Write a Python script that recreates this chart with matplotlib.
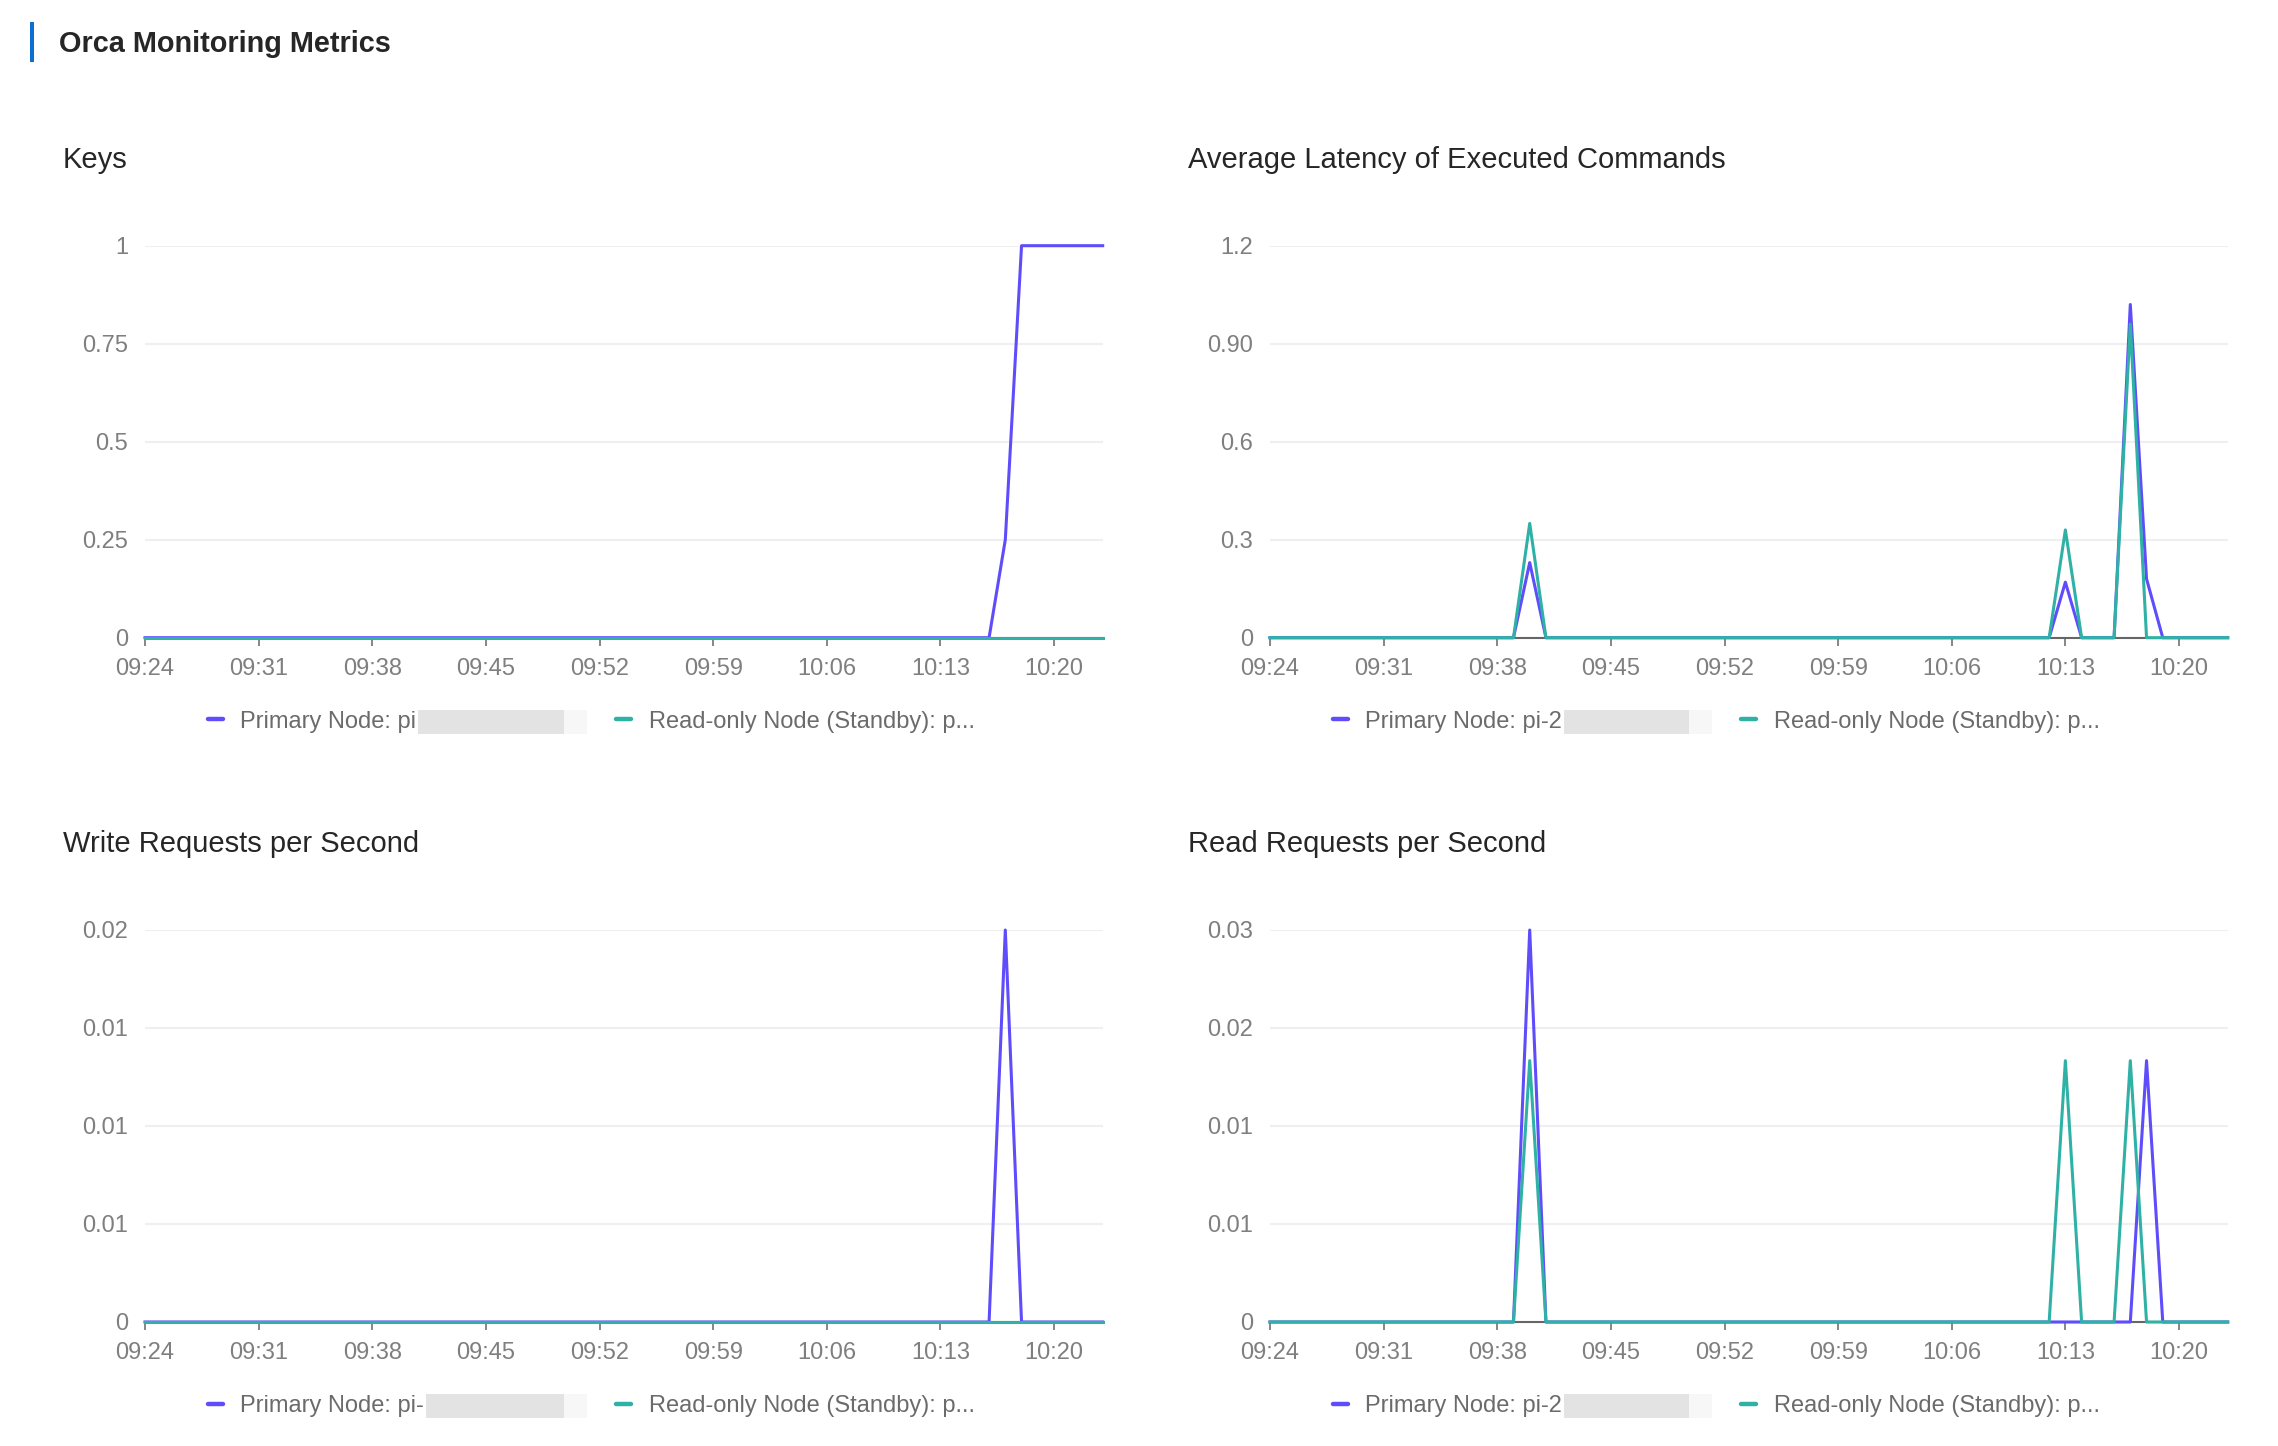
#!/usr/bin/env python3

import pandas as pd
import matplotlib
matplotlib.use("Agg")
import matplotlib.pyplot as plt
import matplotlib.dates as mdates
from matplotlib.lines import Line2D
from matplotlib.patches import Rectangle

DPI = 100

# one sample per minute, 09:24 .. 10:23
TIMES = pd.date_range("2024-01-01 09:24", periods=60, freq="min")

KEYS_PRIMARY = [0] * 53 + [0.25] + [1] * 6
KEYS_STANDBY = [0] * 60

LAT_PRIMARY = [0] * 16 + [0.23] + [0] * 32 + [0.17] + [0] * 3 + [1.02, 0.18] + [0] * 5
LAT_STANDBY = [0] * 16 + [0.35] + [0] * 32 + [0.33] + [0] * 3 + [0.96] + [0] * 6

WRITE_PRIMARY = [0] * 53 + [0.02] + [0] * 6
WRITE_STANDBY = [0] * 60

READ_PRIMARY = [0] * 16 + [0.03] + [0] * 37 + [0.02] + [0] * 5
READ_STANDBY = [0] * 16 + [0.02] + [0] * 32 + [0.02] + [0] * 3 + [0.02] + [0] * 6

KEYS_TICKS = [0, 0.25, 0.5, 0.75, 1]
KEYS_LABELS = ["0", "0.25", "0.5", "0.75", "1"]
LAT_TICKS = [0, 0.3, 0.6, 0.9, 1.2]
LAT_LABELS = ["0", "0.3", "0.6", "0.90", "1.2"]
WRITE_TICKS = [0, 0.005, 0.01, 0.015, 0.02]
WRITE_LABELS = ["0", "0.01", "0.01", "0.01", "0.02"]
READ_TICKS = [0, 0.0075, 0.015, 0.0225, 0.03]
READ_LABELS = ["0", "0.01", "0.01", "0.02", "0.03"]

PURPLE = "#5f4dfb"
TEAL = "#2fb1a6"
TICK_GREY = "#7f7f7f"
TEXT_GREY = "#6b6b6b"

plt.rcParams['font.family'] = ['Liberation Sans', 'DejaVu Sans']

W, H = 2278, 1446


def panel(fig, rect, title, title_xy, primary, standby, ticks, labels, primary_label):
    ax = fig.add_axes(rect)
    ax.plot(TIMES, primary, color=PURPLE, lw=2.2, zorder=3, clip_on=False)
    ax.plot(TIMES, standby, color=TEAL, lw=2.2, zorder=4, clip_on=False)
    ax.set_xlim(TIMES[0], TIMES[-1])
    ax.set_ylim(0, ticks[-1])
    ax.set_yticks(ticks)
    ax.set_yticklabels(labels)
    ax.set_xticks(TIMES[::7])
    ax.xaxis.set_major_formatter(mdates.DateFormatter("%H:%M"))
    for s in ("top", "left", "right"):
        ax.spines[s].set_visible(False)
    ax.spines["bottom"].set_color("#666666")
    ax.spines["bottom"].set_linewidth(1.5)
    ax.spines["bottom"].set_zorder(1)
    ax.tick_params(axis="x", direction="out", length=5.8, width=1.1, color="#666666",
                   labelcolor=TICK_GREY, labelsize=17, pad=8.6)
    ax.tick_params(axis="y", length=0, labelcolor=TICK_GREY, labelsize=17, pad=12.3)
    ax.grid(axis="y", color="#efefef", lw=1.5)
    ax.set_axisbelow(True)

    fig.text(title_xy[0], title_xy[1], title, fontsize=21, color="#262626", va="baseline")

    h1 = Line2D([], [], color=PURPLE, lw=3.2, solid_capstyle="round")
    h2 = Line2D([], [], color=TEAL, lw=3.2, solid_capstyle="round")
    common = dict(loc="center left", frameon=False, fontsize=17, borderpad=0,
                  borderaxespad=0, handlelength=0.62, handletextpad=0.75,
                  labelcolor=TEXT_GREY)
    leg1 = ax.legend([h1], [primary_label], bbox_to_anchor=(0.0658, -0.214), **common)
    ax.add_artist(leg1)
    ax.legend([h2], ["Read-only Node (Standby): p..."], bbox_to_anchor=(0.492, -0.214), **common)
    return ax, leg1


def mask(fig, ax, leg):
    # blurred-out part of the node name in the original screenshot
    fig.canvas.draw()
    bb = leg.get_texts()[0].get_window_extent()
    inv = ax.transAxes.inverted()
    x0, y0 = inv.transform((bb.x1 + 2, (bb.y0 + bb.y1) / 2))
    x_end = 0.462
    hgt = 24 / (392.0)
    ax.add_patch(Rectangle((x0, y0 - hgt / 2), x_end - 0.025 - x0, hgt,
                           transform=ax.transAxes, clip_on=False, color="#e3e3e3", lw=0))
    ax.add_patch(Rectangle((x_end - 0.025, y0 - hgt / 2), 0.025, hgt,
                           transform=ax.transAxes, clip_on=False, color="#f7f7f7", lw=0))


def main():
    fig = plt.figure(figsize=(W / DPI, H / DPI), dpi=DPI)

    fig.add_artist(Rectangle((30 / W, 1 - 62 / H), 4 / W, 40 / H, transform=fig.transFigure,
                             color="#0a6fd1", lw=0))
    fig.text(59 / W, 1 - 52 / H, "Orca Monitoring Metrics", fontsize=20.8, weight="bold",
             color="#262626", va="baseline")

    aw, ah = 957.7 / W, 392 / H
    lx, rx = 145 / W, 1270 / W
    ty, by = 1 - 637.7 / H, 1 - 1322 / H
    tl_title, bl_title = 1 - 168 / H, 1 - 852 / H

    panels = [
        ([lx, ty, aw, ah], "Keys", (63 / W, tl_title), KEYS_PRIMARY, KEYS_STANDBY,
         KEYS_TICKS, KEYS_LABELS, "Primary Node: pi"),
        ([rx, ty, aw, ah], "Average Latency of Executed Commands", (1188 / W, tl_title),
         LAT_PRIMARY, LAT_STANDBY, LAT_TICKS, LAT_LABELS, "Primary Node: pi-2"),
        ([lx, by, aw, ah], "Write Requests per Second", (63 / W, bl_title),
         WRITE_PRIMARY, WRITE_STANDBY, WRITE_TICKS, WRITE_LABELS, "Primary Node: pi-"),
        ([rx, by, aw, ah], "Read Requests per Second", (1188 / W, bl_title),
         READ_PRIMARY, READ_STANDBY, READ_TICKS, READ_LABELS, "Primary Node: pi-2"),
    ]
    made = []
    for p in panels:
        made.append(panel(fig, *p))
    for ax, leg in made:
        mask(fig, ax, leg)

    fig.savefig("out.png", dpi=DPI, facecolor="white")


if __name__ == "__main__":
    main()
